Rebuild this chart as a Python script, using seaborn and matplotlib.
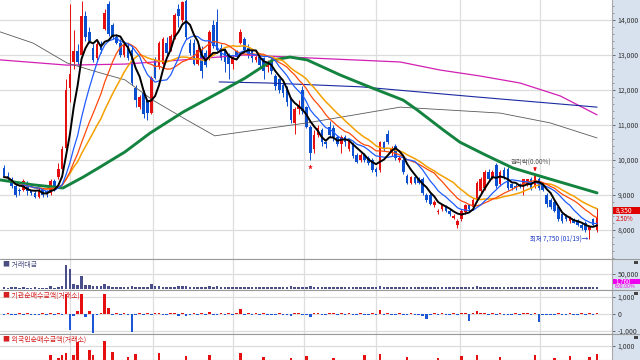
import numpy as np
import pandas as pd
import matplotlib
matplotlib.use("Agg")
import matplotlib.pyplot as plt
import seaborn as sns
from matplotlib.patches import Rectangle
from matplotlib.lines import Line2D

sns.set_theme(style="white")
plt.rcParams["font.family"] = ["Noto Sans CJK KR", "DejaVu Sans"]

# ---------------- data ----------------
opens = [9770, 9550, 9450, 9250, 9150, 9150, 9350, 9100, 9050, 8950,
         9150, 9100, 9050, 9400, 9500, 9750, 10350, 12050, 12800, 13100,
         13000, 14100, 13650, 13200, 12900, 13300, 13750, 14450, 13850, 13500,
         13350, 13000, 13250, 13150, 12050, 11500, 11900, 11700, 11350, 12850,
         12650, 12750, 13350, 13150, 13500, 14300, 14000, 14550, 13350, 13350,
         12750, 13150, 13050, 12900, 13850, 13950, 13200, 13150, 13000, 12750,
         13100, 13350, 13450, 13200, 13100, 12850, 12950, 12900, 12650, 12850,
         12400, 12300, 12150, 12050, 11750, 11050, 11450, 12000, 11500, 10950,
         10300, 10700, 10850, 10500, 10950, 10900, 10650, 10450, 10650, 10300,
         10450, 10150, 10000, 10150, 10050, 10000, 9750, 9700, 10500, 10750,
         10200, 10400, 10000, 10000, 9550, 9350, 9500, 9450, 9450, 9000,
         9000, 8700, 8500, 8600, 8650, 8550, 8350, 8150, 8300, 8500,
         8700, 8650, 8850, 9100, 9200, 9650, 9500, 9850, 9300, 9700,
         9750, 9300, 9250, 9300, 9300, 9300, 9450, 9250, 9450, 9300,
         9000, 8850, 8800, 8650, 8450, 8400, 8250, 8300, 8250, 8150,
         8200, 8000, 8300, 8000]
highs = [9850, 9650, 9500, 9300, 9200, 9450, 9400, 9150, 9100, 9200,
         9200, 9150, 9450, 9450, 9900, 10400, 12300, 14450, 13700, 13300,
         14550, 14250, 13800, 13300, 13400, 13400, 14300, 14550, 13900, 13600,
         13450, 13400, 13350, 13250, 12150, 11850, 12000, 11750, 12400, 12950,
         13400, 13500, 13500, 13600, 14200, 14450, 14550, 14650, 13450, 13450,
         13300, 13250, 13150, 13700, 14000, 14300, 13300, 13200, 13050, 13000,
         13150, 13750, 13500, 13300, 13150, 13000, 13050, 12950, 12850, 12900,
         12450, 12350, 12200, 12100, 11800, 11500, 11700, 12100, 11550, 11000,
         10850, 11000, 10900, 10550, 11100, 11000, 10700, 10700, 10700, 10600,
         10500, 10200, 10200, 10200, 10100, 10050, 9800, 10550, 10550, 10850,
         10400, 10450, 10100, 10050, 9600, 9550, 9550, 9500, 9500, 9050,
         9050, 8850, 8600, 8750, 8700, 8600, 8450, 8300, 8600, 8750,
         8750, 8900, 9400, 9500, 9700, 9750, 9700, 9900, 9700, 9800,
         9800, 9350, 9300, 9350, 9450, 9450, 9500, 9600, 9500, 9350,
         9050, 8900, 8850, 8700, 8500, 8450, 8400, 8350, 8300, 8200,
         8250, 8150, 8350, 8620]
lows = [9500, 9400, 9200, 8950, 9000, 9100, 9000, 9000, 8900, 8900,
        8950, 8950, 9000, 9100, 9450, 9700, 10200, 11650, 12600, 12700,
        12900, 13400, 13350, 12800, 12850, 13050, 13700, 13550, 13450, 13300,
        12950, 12950, 12850, 12150, 11500, 11450, 11200, 11150, 11300, 12300,
        12600, 12700, 13000, 13100, 13450, 13800, 13950, 13450, 13000, 12700,
        12700, 12350, 12650, 12850, 13200, 13100, 12850, 12500, 12300, 12600,
        12900, 13300, 13050, 12900, 12800, 12800, 12600, 12300, 12500, 12450,
        12000, 11900, 11800, 11550, 11050, 10750, 11300, 11300, 10900, 10000,
        10200, 10650, 10400, 10350, 10650, 10550, 10400, 10200, 10400, 10250,
        10050, 9900, 9950, 9950, 9850, 9650, 9550, 9650, 10250, 10450,
        10100, 10000, 9950, 9600, 9300, 9300, 9300, 9300, 9000, 8800,
        8700, 8650, 8450, 8550, 8500, 8400, 8300, 8050, 8250, 8450,
        8550, 8600, 8800, 9050, 9150, 9400, 9450, 9200, 9250, 9450,
        9150, 9150, 9150, 9200, 9000, 9250, 9150, 9200, 9150, 9100,
        8650, 8600, 8500, 8250, 8200, 8250, 8200, 8200, 8100, 8000,
        7950, 7750, 8100, 7950]
closes = [9510, 9480, 9250, 9000, 9100, 9400, 9100, 9050, 8950, 9150,
          9000, 9050, 9400, 9150, 9750, 10300, 12000, 12450, 13100, 12800,
          14100, 13500, 13400, 12850, 13300, 13150, 14200, 13600, 13500, 13350,
          13000, 13300, 12900, 12200, 11700, 11800, 11300, 11350, 12350, 12350,
          13350, 13450, 13050, 13550, 14150, 14100, 14500, 13500, 13050, 12750,
          13150, 12550, 12700, 13650, 13250, 13150, 12900, 12800, 12750, 12950,
          12950, 13650, 13150, 13000, 12900, 12950, 12700, 12550, 12800, 12550,
          12100, 12000, 11900, 11650, 11150, 11450, 11550, 11400, 10950, 10200,
          10700, 10900, 10500, 10450, 10700, 10650, 10450, 10650, 10500, 10550,
          10100, 9950, 10150, 10000, 9900, 9700, 9650, 10500, 10300, 10500,
          10350, 10050, 10050, 9650, 9350, 9500, 9350, 9350, 9050, 8850,
          8750, 8800, 8550, 8700, 8550, 8450, 8400, 8250, 8550, 8700,
          8600, 8850, 9350, 9450, 9650, 9450, 9650, 9250, 9650, 9500,
          9200, 9200, 9200, 9250, 9450, 9450, 9200, 9550, 9200, 9150,
          8750, 8650, 8550, 8300, 8250, 8300, 8350, 8200, 8150, 8050,
          8000, 8100, 8150, 8350]

volumes = [4000, 3000, 3500, 5000, 3000, 4000, 3000, 2500, 3500, 3000,
           3000, 2500, 9000, 3000, 5000, 10000, 82000, 66000, 17000, 11000,
           43000, 13000, 13000, 8000, 8000, 8000, 17000, 8000, 6000, 5000,
           5000, 5000, 6000, 8000, 6000, 4000, 5000, 6000, 15000, 8000,
           7000, 6000, 5000, 5000, 6000, 9000, 7000, 8000, 6000, 5000,
           5000, 6000, 5000, 8000, 6000, 7000, 5000, 4000, 5000, 4000,
           4000, 6000, 5000, 4000, 4000, 3500, 4000, 5000, 4000, 4000,
           5000, 4000, 4000, 5000, 7000, 6000, 5000, 6000, 6000, 9000,
           6000, 5000, 4000, 3500, 5000, 4000, 3500, 4000, 3500, 4000,
           4000, 4000, 3500, 4000, 4000, 4500, 4000, 9000, 6000, 5000,
           4000, 4000, 3500, 4000, 4500, 4000, 3500, 3500, 4500, 4000,
           4000, 3500, 3500, 4000, 3500, 3500, 4000, 5000, 5000, 4500,
           4000, 5000, 8000, 6000, 6000, 5000, 4500, 5000, 4500, 4000,
           4500, 4000, 3500, 3500, 4000, 4000, 3500, 5000, 4500, 4000,
           5000, 4500, 4000, 4500, 4000, 3500, 3500, 3500, 3500, 4000,
           4000, 4500, 3500, 5000]

inst_net = [-60, 40, -50, -40, 30, -60, 50, -40, -30, -50,
            40, -70, 60, -50, 60, -80, 1180, -940, -120, 200,
            1150, -150, 200, -1100, -50, 60, 1150, 350, -60, 40,
            -50, 60, -80, -1040, -70, 50, -60, 40, -50, 60,
            50, -40, -60, 40, 80, -90, 60, -120, -60, 40,
            -50, 60, -40, 120, -60, -80, 40, -50, 60, -40,
            50, 300, -60, 40, -50, 40, -60, 50, -40, -60,
            -50, 40, -60, -80, -120, 60, 40, -60, -80, -150,
            80, 60, -40, -50, 40, 50, -60, 40, -50, 60,
            -40, -50, 40, -60, -50, 40, -60, 250, -80, 40,
            -50, -60, 40, -70, -80, 50, -40, -60, -90, -300,
            -50, 40, -60, 50, -40, -50, 40, -60, 60, 50,
            -400, 60, 150, 80, 60, -50, 40, -60, 50, -40,
            -60, -50, 40, -50, 60, 40, -60, 80, -450, -60,
            -80, -60, -50, 40, -60, -50, 40, -50, -60, 40,
            -50, 60, -40, 80]

foreign_net = [-60, 40, -50, -40, 30, -60, 50, -40, -30, -50,
               40, -70, 470, -50, 290, 470, 590, -200, 470, 1235,
               -100, 150, 765, 470, -50, 60, 1300, -200, 650, 40,
               -50, 60, 350, -80, 530, 50, -60, 40, -50, 60,
               590, -40, -60, 40, 80, -90, 60, 400, -60, 40,
               -50, 60, -40, 450, -60, -80, 40, -50, 60, -40,
               50, 600, -60, 40, -50, 40, -60, 350, -40, -60,
               -50, 40, -60, -80, 300, 60, 40, -60, 400, -150,
               80, 60, -40, -50, 40, 300, -60, 40, -50, 60,
               -40, -50, 40, 450, -50, 40, -60, 500, -80, 40,
               -50, -60, 40, -70, 350, 50, -40, -60, -90, -300,
               -50, 40, 300, 50, -40, -50, 40, -60, 400, 50,
               -400, 60, 450, 80, 60, -50, 40, -60, 350, -40,
               -60, -50, 40, -50, 60, 40, -60, 450, -450, -60,
               -80, -60, 300, 40, -60, -50, 400, -50, -60, 40,
               -50, 350, -40, 500]

# longer moving averages (candle index, price)
ma_green_idx = [-1, 7.5, 15.2, 20.4, 24.8, 31.2, 37.7, 46.2, 55.7, 62.2, 69.4, 73.8,
                78.2, 86.7, 93.1, 103, 106.6, 113.3, 117.6, 124.1, 131.3, 140.1, 153]
ma_green_val = [9430, 9290, 9200, 9510, 9800, 10230, 10770, 11370, 11940, 12340, 12860, 12940,
                12860, 12430, 12140, 11710, 11430, 10860, 10510, 10150, 9770, 9480, 9060]
ma_gray_idx = [-1, 7.5, 16.3, 24.8, 31.2, 38.4, 47.2, 54.4, 78.2, 102.2, 114.3, 128, 140.9, 153]
ma_gray_val = [13660, 13340, 12770, 12490, 12290, 11710, 11140, 10690, 11060, 11510, 11430,
               11340, 11060, 10630]
ma_navy_idx = [55.5, 68, 92.1, 122, 153]
ma_navy_val = [12230, 12200, 12090, 11800, 11510]
ma_pink_idx = [-1, 16.3, 31.2, 46.2, 62, 73.8, 102.2, 112.5, 122.8, 133.1, 143.5, 153]
ma_pink_val = [12860, 12710, 12740, 12860, 13000, 12940, 12800, 12570, 12400, 12200, 11830, 11290]

month_breaks = [17.0, 38.4, 59.1, 77.4, 96.0, 117.6, 138.3]
price_ticks = [8000, 9000, 10000, 11000, 12000, 13000, 14000]
low_idx, high_mark_idx, star_idx = 151, 137, 79

# ---------------- figure ----------------
W, H = 640, 360
fig = plt.figure(figsize=(6.4, 3.6), dpi=100)
fig.patch.set_facecolor("white")
fig.patches.append(Rectangle((612 / W, 0), 28 / W, 1, transform=fig.transFigure,
                             facecolor="#d8e2ef", edgecolor="none", zorder=-5))


def px_axes(x0, y0, x1, y1):
    return fig.add_axes([x0 / W, 1 - y1 / H, (x1 - x0) / W, (y1 - y0) / H])


ax = px_axes(0, 0, 612, 259)
axv = px_axes(0, 259, 612, 290)
axi = px_axes(0, 290, 612, 334)
axf = px_axes(0, 334, 612, 360)

n = len(closes)
df = pd.DataFrame({"i": np.arange(n), "o": opens, "h": highs, "l": lows, "c": closes,
                   "v": volumes, "inst": inst_net, "frn": foreign_net})
for w in (5, 10, 15, 20):
    df[f"ma{w}"] = df["c"].rolling(w, min_periods=1).mean()

RED, BLUE = "#e60f0f", "#0a4fd0"
up = df["c"] >= df["o"]
ccol = np.where(up, RED, BLUE)

XL = (-1.03, 156.86)
for a in (ax, axv, axi, axf):
    a.set_xlim(*XL)
    a.set_facecolor("white")
    a.tick_params(axis="x", bottom=False, labelbottom=False)
    for s in a.spines.values():
        s.set_color("#a8a8a8")
        s.set_linewidth(0.8)
    a.spines["top"].set_visible(False)
    a.spines["left"].set_visible(False)
    for mb in month_breaks:
        a.axvline(mb, color="#dedede", lw=0.9, zorder=0)
    a.yaxis.tick_right()
    a.tick_params(axis="y", which="both", direction="out", colors="#555555",
                  labelsize=5, pad=1.5, length=2.5, width=0.6, labelcolor="#333333")

# price panel
ax.set_ylim(7171, 14571)
ax.set_yticks(price_ticks)
ax.set_yticklabels([f"{t:,}" for t in price_ticks])
ax.set_yticks(np.arange(7200, 14600, 200), minor=True)
ax.tick_params(axis="y", which="minor", length=1.2, width=0.5, colors="#777777")
ax.grid(axis="y", color="#dcdcdc", lw=0.9)
ax.set_axisbelow(True)

ax.vlines(df["i"], df["l"], df["h"], colors=ccol, lw=0.7, zorder=2)
body = (df["c"] - df["o"]).abs().clip(lower=25)
ax.bar(df["i"], body, bottom=np.minimum(df["o"], df["c"]), width=0.68,
       color=ccol, linewidth=0, zorder=2)

sns.lineplot(x=ma_pink_idx, y=ma_pink_val, ax=ax, color="#d21fb4", lw=0.9, zorder=3)
sns.lineplot(x=ma_navy_idx, y=ma_navy_val, ax=ax, color="#1a2aa0", lw=0.8, zorder=3)
sns.lineplot(x=ma_gray_idx, y=ma_gray_val, ax=ax, color="#5a5a5a", lw=0.6, zorder=3)
sns.lineplot(x=ma_green_idx, y=ma_green_val, ax=ax, color="#13833f", lw=2.1, zorder=3)
sns.lineplot(data=df, x="i", y="ma20", ax=ax, color="#f5a000", lw=1.1, zorder=4)
sns.lineplot(data=df, x="i", y="ma15", ax=ax, color="#ff4a0a", lw=0.9, zorder=4)
sns.lineplot(data=df, x="i", y="ma10", ax=ax, color="#1f5cff", lw=0.9, zorder=4)
sns.lineplot(data=df, x="i", y="ma5", ax=ax, color="black", lw=1.4, zorder=5)
ax.set_xlabel("")
ax.set_ylabel("")

# annotations
ax.annotate("최저 7,750 (01/19)→", xy=(low_idx, lows[low_idx]), xytext=(-1, 0),
            textcoords="offset points", ha="right", va="center", fontsize=4.6,
            color="#1a37c8")
ax.annotate("", xy=(high_mark_idx, highs[high_mark_idx]), xytext=(0, 5.5),
            textcoords="offset points",
            arrowprops=dict(arrowstyle="-|>", color=RED, lw=0.8, mutation_scale=4))
ax.annotate("권리락(0.00%)", xy=(high_mark_idx, highs[high_mark_idx]), xytext=(-3, 8.5),
            textcoords="offset points", ha="center", va="center", fontsize=4.6,
            color="#555555")
ax.annotate("*", xy=(star_idx, lows[star_idx]), xytext=(0, -7), textcoords="offset points",
            ha="center", va="center", fontsize=7, color=RED, fontweight="bold")

# current price box (right scale)
ytr = ax.get_yaxis_transform()
ax.add_patch(Rectangle((1.002, 8450), 0.046, 210, transform=ytr, facecolor="#e00000",
                       edgecolor="none", clip_on=False, zorder=10))
ax.text(1.006, 8555, f"{closes[-1]:,}", transform=ytr, fontsize=4.8, color="white",
        va="center", ha="left", clip_on=False, zorder=11)
ax.text(1.006, 8320, "2.50%", transform=ytr, fontsize=4.4,
        color="#e00000", va="center", ha="left", clip_on=False, zorder=10)

# volume panel
axv.set_ylim(-5170, 101700)
axv.set_yticks([50000])
axv.set_yticklabels(["50,000"])
axv.grid(axis="y", color="#dcdcdc", lw=0.9)
axv.bar(df["i"], df["v"], width=0.68, color="#4a4f8c", linewidth=0, zorder=2)
vtr = axv.get_yaxis_transform()
axv.add_patch(Rectangle((1.002, 15500), 0.046, 16500, transform=vtr, facecolor="#ee00ee",
                        edgecolor="none", clip_on=False, zorder=10))
axv.text(1.006, 23800, "1,760", transform=vtr, fontsize=4.4, color="white",
         va="center", ha="left", clip_on=False, zorder=11)
axv.text(1.004, 5200, "600.00%", transform=vtr, fontsize=3.8,
         color="#ee00ee", va="center", ha="left", clip_on=False, zorder=10)

# institutional panel
axi.set_ylim(-1176, 1412)
axi.set_yticks([-1000, 0, 1000])
axi.set_yticklabels(["-1,000", "0", "1,000"])
axi.grid(axis="y", color="#dcdcdc", lw=0.9)
icol = np.where(df["inst"] >= 0, RED, "#1d57d8")
axi.bar(df["i"], df["inst"], width=0.68, color=icol, linewidth=0, zorder=2)

# foreign panel
axf.set_ylim(176, 1706)
axf.set_yticks([1000])
axf.set_yticklabels(["1,000"])
axf.grid(axis="y", color="#dcdcdc", lw=0.9)
fcol = np.where(df["frn"] >= 0, RED, "#1d57d8")
axf.bar(df["i"], df["frn"], width=0.68, color=fcol, linewidth=0, zorder=2)

# panel titles
fig.text(3 / W, 1 - 261 / H, "■ 거래대금", fontsize=5, color="#4a4f80", va="top", ha="left")
fig.text(3 / W, 1 - 292 / H, "■ 기관순매수금액(거래소)", fontsize=5, color="#d42020",
         va="top", ha="left")
fig.text(3 / W, 1 - 336 / H, "■ 외국인순매수금액(거래소)", fontsize=5, color="#d42020",
         va="top", ha="left")

# separators and small panel buttons
for yy in (259, 290, 334):
    fig.add_artist(Line2D([0, 1], [1 - yy / H, 1 - yy / H], transform=fig.transFigure,
                          color="#9a9a9a", lw=0.8))
for yy in (261, 292, 336):
    fig.patches.append(Rectangle((634 / W, 1 - (yy + 3) / H), 4 / W, 3 / H,
                                 transform=fig.transFigure, facecolor="#444444",
                                 edgecolor="none", zorder=5))

fig.savefig("out.png", dpi=100)
